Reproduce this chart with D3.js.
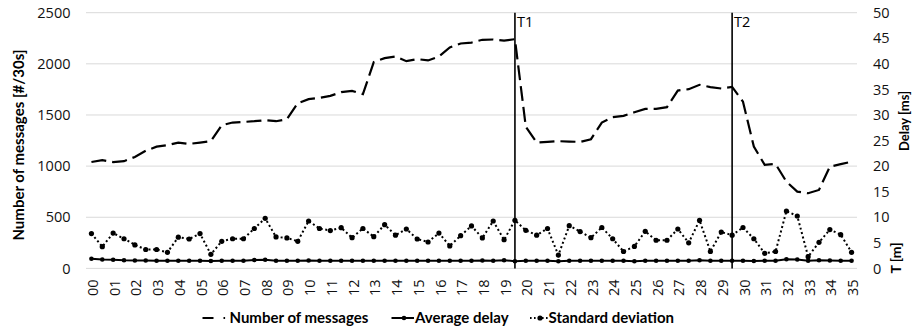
<!DOCTYPE html>
<html>
<head>
<meta charset="utf-8">
<script src="https://cdn.jsdelivr.net/npm/d3@7"></script>
<style>
  body { margin: 0; background: #fff; }
  svg { font-family: Lato, "Open Sans", sans-serif; }
</style>
</head>
<body>
<div id="chart"></div>
<script>
// one point every 30 s, labelled every minute
var minutes = d3.range(71).map(function (i) { return i / 2; });

var messages = [1040, 1058, 1040, 1048, 1090, 1150, 1190, 1205, 1230, 1217,
  1230, 1244, 1400, 1426, 1432, 1439, 1449, 1439, 1459, 1615,
  1655, 1667, 1687, 1723, 1736, 1703, 2017, 2056, 2072, 2026,
  2046, 2033, 2072, 2160, 2199, 2208, 2235, 2238, 2228, 2241,
  1385, 1230, 1237, 1244, 1240, 1237, 1263, 1426, 1478, 1491,
  1527, 1560, 1560, 1576, 1739, 1752, 1795, 1772, 1759, 1775,
  1630, 1191, 1012, 1021, 848, 751, 735, 767, 995, 1019, 1044];

var avgDelay = [1.9, 1.75, 1.7, 1.6, 1.55, 1.55, 1.5, 1.5, 1.5, 1.5,
  1.5, 1.45, 1.5, 1.5, 1.5, 1.65, 1.7, 1.5, 1.5, 1.5,
  1.55, 1.5, 1.5, 1.5, 1.5, 1.5, 1.5, 1.5, 1.5, 1.5,
  1.5, 1.5, 1.5, 1.5, 1.5, 1.5, 1.55, 1.5, 1.6, 1.4,
  1.5, 1.5, 1.5, 1.4, 1.5, 1.5, 1.5, 1.5, 1.5, 1.5,
  1.4, 1.5, 1.5, 1.5, 1.5, 1.5, 1.6, 1.5, 1.5, 1.5,
  1.5, 1.45, 1.5, 1.5, 1.8, 1.75, 1.5, 1.6, 1.55, 1.5, 1.5];

var stdDev = [6.8, 4.25, 6.9, 5.8, 4.6, 3.7, 3.7, 3.15, 6.1, 5.75,
  6.8, 2.75, 5.3, 5.8, 5.8, 7.8, 9.8, 6.15, 5.95, 5.3,
  9.27, 7.8, 7.4, 7.96, 6.0, 7.8, 6.2, 8.55, 6.5, 7.7,
  5.75, 5.16, 6.9, 4.4, 6.4, 8.3, 5.95, 9.27, 5.6, 9.4,
  7.45, 6.5, 7.8, 2.6, 8.35, 7.2, 6.0, 8.0, 5.8, 3.3,
  4.3, 7.25, 5.5, 5.5, 7.7, 5.0, 9.4, 3.3, 7.1, 6.5,
  8.0, 5.8, 2.95, 3.3, 11.2, 10.25, 2.3, 5.1, 7.6, 6.6, 3.15];

var leftTicks = [0, 500, 1000, 1500, 2000, 2500];
var rightTicks = [0, 5, 10, 15, 20, 25, 30, 35, 40, 45, 50];
var markers = [{ label: "T1", at: 19.5 }, { label: "T2", at: 29.5 }];

var width = 912;
var height = 328;
var margin = { top: 12.7, right: 55, bottom: 59.6, left: 86 };
var tickFont = "'Open Sans', sans-serif";

var svg = d3.select("#chart").append("svg")
  .attr("width", width)
  .attr("height", height);

var x = d3.scalePoint()
  .domain(minutes)
  .range([margin.left, width - margin.right])
  .padding(0.5);

var yLeft = d3.scaleLinear().domain([0, 2500]).range([height - margin.bottom, margin.top]);
var yRight = d3.scaleLinear().domain([0, 50]).range([height - margin.bottom, margin.top]);

// gridlines
svg.append("g")
  .selectAll("line")
  .data(leftTicks)
  .join("line")
  .attr("x1", margin.left)
  .attr("x2", width - margin.right)
  .attr("y1", function (d) { return yLeft(d); })
  .attr("y2", function (d) { return yLeft(d); })
  .attr("stroke", "#d9d9d9")
  .attr("stroke-width", 1);

// left axis
var gLeft = svg.append("g")
  .attr("transform", "translate(" + (margin.left - 15.5) + ",0)")
  .call(d3.axisLeft(yLeft).tickValues(leftTicks).tickFormat(d3.format("d")).tickSize(0).tickPadding(0));
gLeft.select(".domain").remove();
gLeft.selectAll("text").attr("font-size", 14.5).attr("fill", "#111").attr("font-family", tickFont);

// right axis
var gRight = svg.append("g")
  .attr("transform", "translate(" + (width - margin.right + 16) + ",0)")
  .call(d3.axisRight(yRight).tickValues(rightTicks).tickSize(0).tickPadding(0));
gRight.select(".domain").remove();
gRight.selectAll("text").attr("font-size", 14.5).attr("fill", "#111").attr("font-family", tickFont);

// bottom axis, label every minute
var gBottom = svg.append("g")
  .attr("transform", "translate(0," + (height - margin.bottom) + ")")
  .call(d3.axisBottom(x)
    .tickValues(minutes.filter(function (d) { return d % 1 === 0; }))
    .tickFormat(function (d) { return d3.format("02d")(d); })
    .tickSize(0)
    .tickPadding(0));
gBottom.select(".domain").remove();
gBottom.selectAll("text")
  .attr("font-size", 14.5)
  .attr("fill", "#111")
  .attr("font-family", tickFont)
  .attr("text-anchor", "end")
  .attr("transform", "translate(1,11) rotate(-90)")
  .attr("x", 0)
  .attr("y", 0)
  .attr("dy", "0.35em");

// T1 / T2 lines
var mk = svg.append("g").selectAll("g").data(markers).join("g");
mk.append("line")
  .attr("x1", function (d) { return x(d.at); })
  .attr("x2", function (d) { return x(d.at); })
  .attr("y1", margin.top)
  .attr("y2", height - margin.bottom)
  .attr("stroke", "#000")
  .attr("stroke-width", 1.6);
mk.append("text")
  .attr("x", function (d) { return x(d.at) + 2; })
  .attr("y", 26.5)
  .attr("font-size", 14.5)
  .attr("font-family", tickFont)
  .attr("fill", "#000")
  .text(function (d) { return d.label; });

// series
var lineLeft = d3.line()
  .x(function (d, i) { return x(minutes[i]); })
  .y(function (d) { return yLeft(d); });
var lineRight = d3.line()
  .x(function (d, i) { return x(minutes[i]); })
  .y(function (d) { return yRight(d); });

svg.append("path")
  .datum(stdDev)
  .attr("d", lineRight)
  .attr("fill", "none")
  .attr("stroke", "#000")
  .attr("stroke-width", 2)
  .attr("stroke-dasharray", "2,2.6");
svg.append("g").selectAll("circle")
  .data(stdDev)
  .join("circle")
  .attr("cx", function (d, i) { return x(minutes[i]); })
  .attr("cy", function (d) { return yRight(d); })
  .attr("r", 2.6)
  .attr("fill", "#000");

svg.append("path")
  .datum(avgDelay)
  .attr("d", lineRight)
  .attr("fill", "none")
  .attr("stroke", "#000")
  .attr("stroke-width", 2);
svg.append("g").selectAll("circle")
  .data(avgDelay)
  .join("circle")
  .attr("cx", function (d, i) { return x(minutes[i]); })
  .attr("cy", function (d) { return yRight(d); })
  .attr("r", 2.3)
  .attr("fill", "#000");

svg.append("path")
  .datum(messages)
  .attr("d", lineLeft)
  .attr("fill", "none")
  .attr("stroke", "#000")
  .attr("stroke-width", 2.2)
  .attr("stroke-dasharray", "15,6");

// axis titles
svg.append("text")
  .attr("transform", "translate(23.5," + 145 + ") rotate(-90)")
  .attr("text-anchor", "middle")
  .attr("font-size", 15)
  .attr("font-weight", "bold")
  .attr("fill", "#000")
  .text("Number of messages [#/30s]");
svg.append("text")
  .attr("transform", "translate(908.5,121) rotate(-90)")
  .attr("text-anchor", "middle")
  .attr("font-size", 13)
  .attr("font-weight", "bold")
  .attr("fill", "#000")
  .text("Delay [ms]");
svg.append("text")
  .attr("transform", "translate(901,258) rotate(-90)")
  .attr("text-anchor", "middle")
  .attr("font-size", 14)
  .attr("font-weight", "bold")
  .attr("fill", "#000")
  .text("T [m]");

// legend
var ly = 318;
var legend = svg.append("g").attr("font-size", 15).attr("font-weight", "bold").attr("fill", "#000");

legend.append("line")
  .attr("x1", 202.5).attr("x2", 228).attr("y1", ly).attr("y2", ly)
  .attr("stroke", "#000").attr("stroke-width", 2.2)
  .attr("stroke-dasharray", "11,10,1.6,20");
legend.append("text").attr("x", 229.5).attr("y", ly).attr("dy", "0.35em").text("Number of messages");

legend.append("line")
  .attr("x1", 391.5).attr("x2", 414).attr("y1", ly).attr("y2", ly)
  .attr("stroke", "#000").attr("stroke-width", 2);
legend.append("circle").attr("cx", 404).attr("cy", ly).attr("r", 2.3);
legend.append("text").attr("x", 415).attr("y", ly).attr("dy", "0.35em").text("Average delay");

legend.append("line")
  .attr("x1", 530).attr("x2", 548).attr("y1", ly).attr("y2", ly)
  .attr("stroke", "#000").attr("stroke-width", 2)
  .attr("stroke-dasharray", "1.6,2.4");
legend.append("circle").attr("cx", 540).attr("cy", ly).attr("r", 2.6);
legend.append("text").attr("x", 548.5).attr("y", ly).attr("dy", "0.35em").text("Standard deviation");
</script>
</body>
</html>
